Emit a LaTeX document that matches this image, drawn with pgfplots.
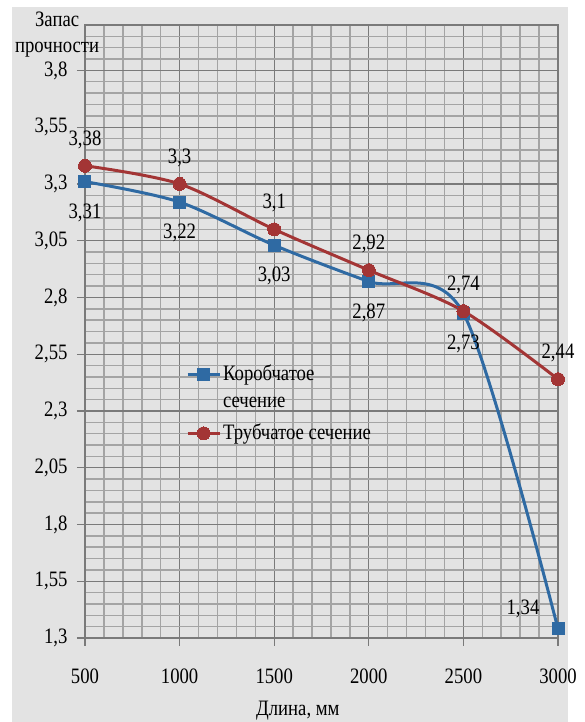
\documentclass[border=0pt]{standalone}
\usepackage{fontspec}
\setmainfont{Liberation Serif}[FakeStretch=0.85]
\usepackage{pgfplots}
\pgfplotsset{compat=1.18}
\definecolor{bggray}{HTML}{E3E3E3}
\definecolor{boxblue}{HTML}{2F6AA3}
\definecolor{tubered}{HTML}{A33535}
\definecolor{minorgrid}{HTML}{A4A4A4}
\definecolor{majorgrid}{HTML}{7A7A7A}

\begin{document}
\fontsize{22}{26}\selectfont
\begin{tikzpicture}[x=1pt,y=1pt]
% page and chart area background
\useasboundingbox (0,0) rectangle (584,722);
\fill[white] (0,0) rectangle (584,722);
\fill[bggray] (12,0) rectangle (568,715);
\begin{axis}[
  at={(85pt,84pt)}, anchor=south west,
  scale only axis, width=473pt, height=613pt,
  xmin=500, xmax=3000, ymin=1.3, ymax=4.0,
  xtick={500,1000,1500,2000,2500,3000},
  ytick={1.3,1.55,1.8,2.05,2.3,2.55,2.8,3.05,3.3,3.55,3.8},
  minor xtick={600,700,800,900,1100,1200,1300,1400,1600,1700,1800,1900,2100,2200,2300,2400,2600,2700,2800,2900},
  minor ytick={1.35,1.4,1.45,1.5,1.6,1.65,1.7,1.75,1.85,1.9,1.95,2.0,2.1,2.15,2.2,2.25,2.35,2.4,2.45,2.5,2.6,2.65,2.7,2.75,2.85,2.9,2.95,3.0,3.1,3.15,3.2,3.25,3.35,3.4,3.45,3.5,3.6,3.65,3.7,3.75,3.85,3.9,3.95,4.0},
  grid=both,
  minor grid style={draw=minorgrid, line width=1.5pt},
  major grid style={draw=majorgrid, line width=1.2pt},
  axis line style={draw=majorgrid, line width=1.2pt},
  tick align=outside, xtick pos=bottom, ytick pos=left,
  major tick length=8pt, minor tick length=0pt,
  tick style={draw=majorgrid, line width=1.2pt},
  /pgf/number format/.cd, use comma, 1000 sep={}, assume math mode=true,
  /pgfplots/.cd,
  xticklabel style={yshift=-15pt},
  yticklabel style={xshift=-2pt},
  xlabel={Длина, мм},
  xlabel style={at={(axis description cs:0.45,-0.118)}, anchor=center},
  ylabel={Запас\\прочности},
  ylabel style={rotate=-90, align=center, font=\fontsize{22}{26}\selectfont,
    at={(axis description cs:-0.059,0.984)}, anchor=center},
  legend cell align=left,
  legend style={draw=none, fill=none, at={(0.207,0.452)}, anchor=north west,
    row sep=9pt},
  legend image code/.code={%
    \draw[mark repeat=2, mark phase=2] plot coordinates {(0pt,0pt) (16pt,0pt) (32pt,0pt)};},
]
% box section
\addplot[boxblue, line width=3pt, smooth, mark=square*, mark size=6pt,
  mark options={fill=boxblue, draw=boxblue, line width=0pt}]
  coordinates {(500,3.31) (1000,3.22) (1500,3.03) (2000,2.87) (2500,2.73) (3000,1.34)};
\addlegendentry{Коробчатое}
\addlegendimage{empty legend}
\addlegendentry{сечение\rule[-20pt]{0pt}{20pt}}
% tubular section
\addplot[tubered, line width=3pt, smooth, mark=*, mark size=6.5pt,
  mark options={fill=tubered, draw=tubered, line width=0pt}]
  coordinates {(500,3.38) (1000,3.3) (1500,3.1) (2000,2.92) (2500,2.74) (3000,2.44)};
\addlegendentry{Трубчатое сечение}
% value labels
\addplot[draw=none, mark=none, forget plot, nodes near coords,
  nodes near coords style={anchor=center, yshift=-31pt, text=black}]
  coordinates {(500,3.31) (1000,3.22) (1500,3.03) (2000,2.87) (2500,2.73)};
\addplot[draw=none, mark=none, forget plot, nodes near coords,
  nodes near coords style={anchor=center, xshift=-35pt, yshift=20pt, text=black}]
  coordinates {(3000,1.34)};
\addplot[draw=none, mark=none, forget plot, nodes near coords,
  nodes near coords style={anchor=center, yshift=26pt, text=black}]
  coordinates {(500,3.38) (1000,3.3) (1500,3.1) (2000,2.92) (2500,2.74) (3000,2.44)};
\end{axis}
\end{tikzpicture}
\end{document}
